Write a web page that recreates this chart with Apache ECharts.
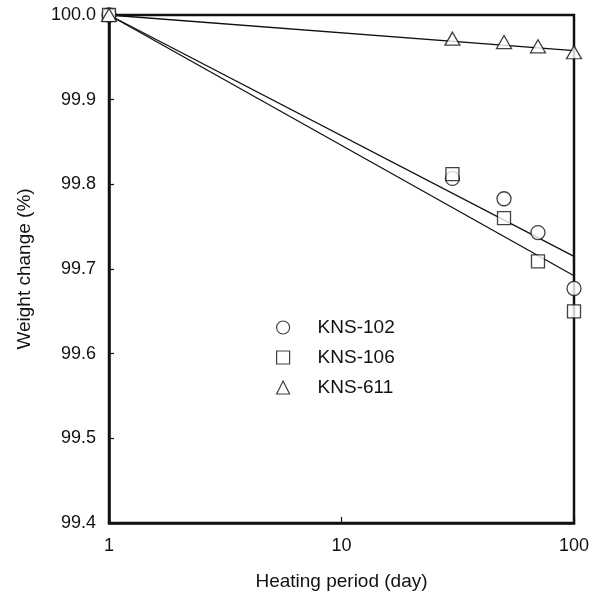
<!DOCTYPE html>
<html>
<head>
<meta charset="utf-8">
<script src="https://cdn.jsdelivr.net/npm/echarts@6/dist/echarts.min.js"></script>
<style>
html,body{margin:0;padding:0;background:#fff;}
#chart{width:593px;height:598px;}
</style>
</head>
<body>
<div id="chart"></div>
<script>
// Data
const days = [1, 30, 50, 70, 100];
const kns102 = [100, 99.807, 99.783, 99.743, 99.677];
const kns106 = [100, 99.812, 99.760, 99.709, 99.650];
const kns611 = [100, 99.972, 99.968, 99.963, 99.956];
const fitDays = [1, 100];
const fit102 = [100, 99.715];
const fit106 = [100, 99.692];
const fit611 = [100, 99.958];
const seriesNames = ['KNS-102', 'KNS-106', 'KNS-611'];
const yTicks = { min: 99.4, max: 100.0, interval: 0.1 };
const xTicks = { min: 1, max: 100 };

const pairs = (xs, ys) => xs.map((x, i) => [x, ys[i]]);
const FONT = 'Liberation Sans, Arial, sans-serif';
const INK = '#111';

const chart = echarts.init(document.getElementById('chart'), null, { renderer: 'canvas' });

const symStyle = { color: '#fff', borderColor: INK, borderWidth: 1.3 };
function scatter(name, ys, symbol, size) {
  return {
    name: name, type: 'scatter', data: pairs(days, ys),
    symbol: symbol, symbolSize: size, itemStyle: symStyle,
    clip: false, z: 5, emphasis: { disabled: true }
  };
}
function fit(name, ys) {
  return {
    name: name, type: 'line', data: pairs(fitDays, ys),
    showSymbol: false, symbol: 'none', lineStyle: { color: INK, width: 1.3 },
    z: 3, silent: true, clip: false
  };
}

chart.setOption({
  animation: false,
  backgroundColor: '#fff',
  grid: { left: 109, right: 19, top: 15, bottom: 75, show: true, borderColor: INK, borderWidth: 2.5, backgroundColor: 'transparent' },
  legend: {
    data: seriesNames,
    orient: 'vertical',
    left: 271, top: 313,
    itemWidth: 13, itemHeight: 13, itemGap: 11,
    textStyle: { fontFamily: FONT, fontSize: 19, color: INK, padding: [0, 0, 0, 23] },
    itemStyle: { color: '#fff', borderColor: INK, borderWidth: 1.2 },
    selectedMode: false
  },
  xAxis: {
    type: 'log', logBase: 10, min: xTicks.min, max: xTicks.max,
    name: 'Heating period (day)', nameLocation: 'middle', nameGap: 49,
    nameTextStyle: { fontFamily: FONT, fontSize: 19, color: INK },
    axisLine: { show: true, lineStyle: { color: INK, width: 2.5 } },
    axisTick: { show: true, inside: true, length: 6, lineStyle: { color: INK, width: 1.2 } },
    axisLabel: { fontFamily: FONT, fontSize: 18, color: INK, margin: 14 },
    splitLine: { show: false }
  },
  yAxis: {
    type: 'value', min: yTicks.min, max: yTicks.max, interval: yTicks.interval,
    name: 'Weight change (%)', nameLocation: 'middle', nameGap: 75,
    nameTextStyle: { fontFamily: FONT, fontSize: 19, color: INK },
    axisLine: { show: true, lineStyle: { color: INK, width: 2.5 } },
    axisTick: { show: true, inside: true, length: 5, lineStyle: { color: INK, width: 1.2 } },
    axisLabel: { fontFamily: FONT, fontSize: 18, color: INK, margin: 13, formatter: v => v.toFixed(1) },
    splitLine: { show: false }
  },
  series: [
    fit('fit-102', fit102),
    fit('fit-106', fit106),
    fit('fit-611', fit611),
    scatter('KNS-102', kns102, 'circle', 14),
    scatter('KNS-106', kns106, 'rect', 13),
    scatter('KNS-611', kns611, 'triangle', [15, 13])
  ]
});
</script>
</body>
</html>
